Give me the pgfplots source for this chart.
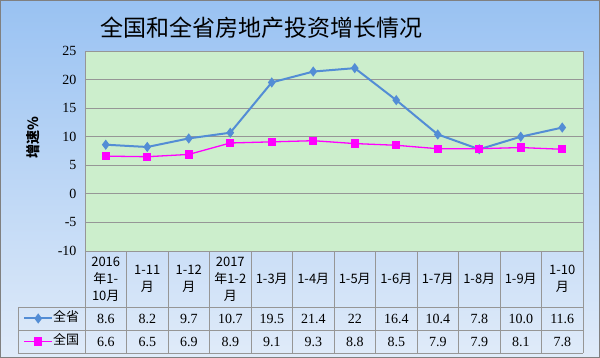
\documentclass[border=0pt]{standalone}
\usepackage{fontspec}
\setmainfont{Liberation Serif}
\newfontfamily\cjk{Noto Sans CJK SC}
\usepackage{pgfplots}
\pgfplotsset{compat=1.18}
\definecolor{bgtop}{RGB}{153,194,242}
\definecolor{bgbot}{RGB}{224,235,249}
\definecolor{plotbg}{RGB}{204,238,204}
\definecolor{sheng}{RGB}{83,141,213}
\definecolor{guo}{RGB}{255,0,255}
\definecolor{gridc}{RGB}{150,150,150}
\definecolor{tabc}{RGB}{150,150,150}
\begin{document}
\begin{tikzpicture}[x=1pt,y=1pt]
\shade[top color=bgtop,bottom color=bgbot] (0,0) rectangle (600,358);
\draw[gray,line width=1pt] (0.5,0.5) rectangle (599.5,357.5);
\begin{axis}[at={(85pt,107pt)},anchor=south west,scale only axis,width=498pt,height=200pt,
 xmin=-0.5,xmax=11.5,ymin=-10,ymax=25,ytick={-10,-5,...,25},
 xtick={0,...,11},
 xticklabels={{2016\\年1-\\10月},{1-11\\月},{1-12\\月},{2017\\年1-2\\月},{1-3月},{1-4月},{1-5月},{1-6月},{1-7月},{1-8月},{1-9月},{1-10\\月}},
 axis background/.style={fill=plotbg},
 ymajorgrids, grid style={gridc, line width=0.8pt},
 axis line style={gridc},
 major tick length=0pt,
 /pgf/number format/assume math mode=true,
 yticklabel style={font=\fontsize{14}{14}\selectfont, xshift=-5pt},
 xticklabel style={font=\cjk\fontsize{13}{17}\selectfont, align=center, anchor=center, yshift=-28pt},
 legend image code/.code={\draw[mark repeat=2,mark phase=2] plot coordinates {(0pt,0pt) (14pt,0pt) (28pt,0pt)};},
 legend style={at={(axis description cs:-0.1305,-0.395)},anchor=west,draw=none,fill=none,
   font=\cjk\fontsize{13}{13}\selectfont, row sep=10pt,
   nodes={inner sep=0pt, text height=10pt, text depth=3pt},
   /tikz/every even column/.append style={column sep=4pt}},
 legend cell align=left,
]
\addplot[sheng, line width=2pt, mark=diamond*, mark size=3.5pt] coordinates {
(0,8.6) (1,8.2) (2,9.7) (3,10.7) (4,19.5) (5,21.4) (6,22) (7,16.4) (8,10.4) (9,7.8) (10,10.0) (11,11.6)};
\addlegendentry{全省}
\addplot[guo, line width=1.3pt, mark=square*, mark size=3.5pt] coordinates {
(0,6.6) (1,6.5) (2,6.9) (3,8.9) (4,9.1) (5,9.3) (6,8.8) (7,8.5) (8,7.9) (9,7.9) (10,8.1) (11,7.8)};
\addlegendentry{全国}
\end{axis}
\foreach \k in {0,...,12} \draw[tabc] ({85+41.5*\k},5) -- ({85+41.5*\k},107);
\draw[tabc] (18,51) -- (583,51);
\draw[tabc] (18,28) -- (583,28);
\draw[tabc] (18,5) -- (583,5);
\draw[tabc] (18,5) -- (18,51);
\foreach \v [count=\i from 0] in {8.6,8.2,9.7,10.7,19.5,21.4,22,16.4,10.4,7.8,10.0,11.6}
  \node[font=\fontsize{14}{14}\selectfont] at ({85+41.5*\i+20.75},39.5) {\v};
\foreach \v [count=\i from 0] in {6.6,6.5,6.9,8.9,9.1,9.3,8.8,8.5,7.9,7.9,8.1,7.8}
  \node[font=\fontsize{14}{14}\selectfont] at ({85+41.5*\i+20.75},16.5) {\v};
\node[font=\cjk\fontsize{23}{23}\selectfont] at (261,330) {全国和全省房地产投资增长情况};
\node[rotate=90,font=\cjk\bfseries\fontsize{14}{14}\selectfont] at (33,220) {增速\%};
\end{tikzpicture}
\end{document}
